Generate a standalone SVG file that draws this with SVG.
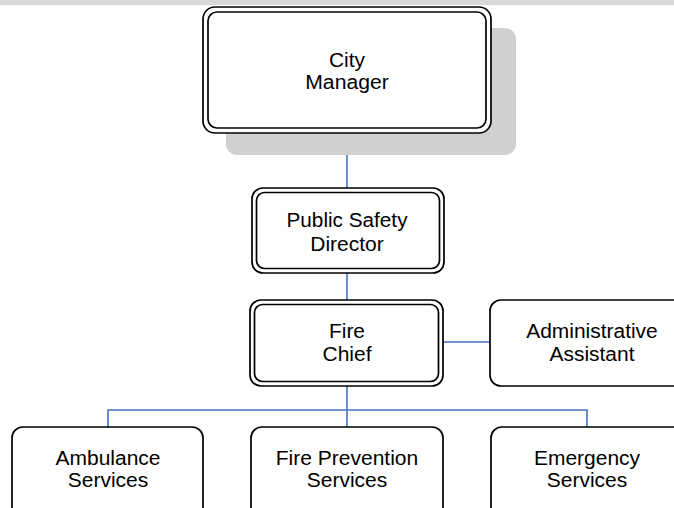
<svg xmlns="http://www.w3.org/2000/svg" width="674" height="508" viewBox="0 0 674 508">
  <style>
    .bg { fill: #ffffff; }
    .band { fill: #d9d9d9; }
    .shadow { fill: #d0d0d0; }
    .box { fill: #ffffff; stroke: #000000; stroke-width: 1.7; }
    .inner { fill: none; stroke: #000000; stroke-width: 1.7; }
    .link { fill: none; stroke: #4472c4; stroke-width: 1.6; }
    text { font-family: "Liberation Sans", Arial, sans-serif; font-size: 20px; fill: #000000; text-anchor: middle; }
  </style>
  <rect class="bg" x="0" y="0" width="674" height="508"/>
  <rect class="band" x="0" y="0" width="674" height="5"/>

  <g id="connectors">
    <line class="link" x1="347" y1="133" x2="347" y2="188"/>
    <line class="link" x1="347" y1="273" x2="347" y2="300"/>
    <line class="link" x1="443" y1="342" x2="490" y2="342"/>
    <line class="link" x1="347" y1="386" x2="347" y2="427"/>
    <polyline class="link" points="108,427 108,410 587,410 587,427"/>
  </g>

  <g id="city-manager">
    <rect class="shadow" x="226" y="28" width="290" height="127" rx="11"/>
    <rect class="box" x="203" y="7" width="288" height="126" rx="12"/>
    <rect class="inner" x="208" y="12" width="278" height="116" rx="9"/>
    <text x="347" y="67" textLength="36" lengthAdjust="spacingAndGlyphs">City</text>
    <text x="347" y="89" textLength="83.5" lengthAdjust="spacingAndGlyphs">Manager</text>
  </g>

  <g id="public-safety-director">
    <rect class="box" x="252" y="188" width="192" height="85" rx="11"/>
    <rect class="inner" x="256.5" y="192.5" width="183" height="76" rx="8"/>
    <text x="347" y="227" textLength="121" lengthAdjust="spacingAndGlyphs">Public Safety</text>
    <text x="347" y="251" textLength="73.5" lengthAdjust="spacingAndGlyphs">Director</text>
  </g>

  <g id="fire-chief">
    <rect class="box" x="250" y="300" width="193" height="86" rx="11"/>
    <rect class="inner" x="254.5" y="304.5" width="184" height="77" rx="8"/>
    <text x="347" y="338" textLength="36" lengthAdjust="spacingAndGlyphs">Fire</text>
    <text x="347" y="361" textLength="49" lengthAdjust="spacingAndGlyphs">Chief</text>
  </g>

  <g id="administrative-assistant">
    <rect class="box" x="490" y="300" width="200" height="86" rx="11"/>
    <text x="592" y="338" textLength="131.5" lengthAdjust="spacingAndGlyphs">Administrative</text>
    <text x="592" y="361" textLength="85" lengthAdjust="spacingAndGlyphs">Assistant</text>
  </g>

  <g id="ambulance-services">
    <rect class="box" x="12" y="427" width="191" height="100" rx="11"/>
    <text x="108" y="465" textLength="105" lengthAdjust="spacingAndGlyphs">Ambulance</text>
    <text x="108" y="487" textLength="80.5" lengthAdjust="spacingAndGlyphs">Services</text>
  </g>

  <g id="fire-prevention-services">
    <rect class="box" x="251" y="427" width="192" height="100" rx="11"/>
    <text x="347" y="465" textLength="142.5" lengthAdjust="spacingAndGlyphs">Fire Prevention</text>
    <text x="347" y="487" textLength="80.5" lengthAdjust="spacingAndGlyphs">Services</text>
  </g>

  <g id="emergency-services">
    <rect class="box" x="491" y="427" width="200" height="100" rx="11"/>
    <text x="587" y="465" textLength="106" lengthAdjust="spacingAndGlyphs">Emergency</text>
    <text x="587" y="487" textLength="80.5" lengthAdjust="spacingAndGlyphs">Services</text>
  </g>
</svg>
